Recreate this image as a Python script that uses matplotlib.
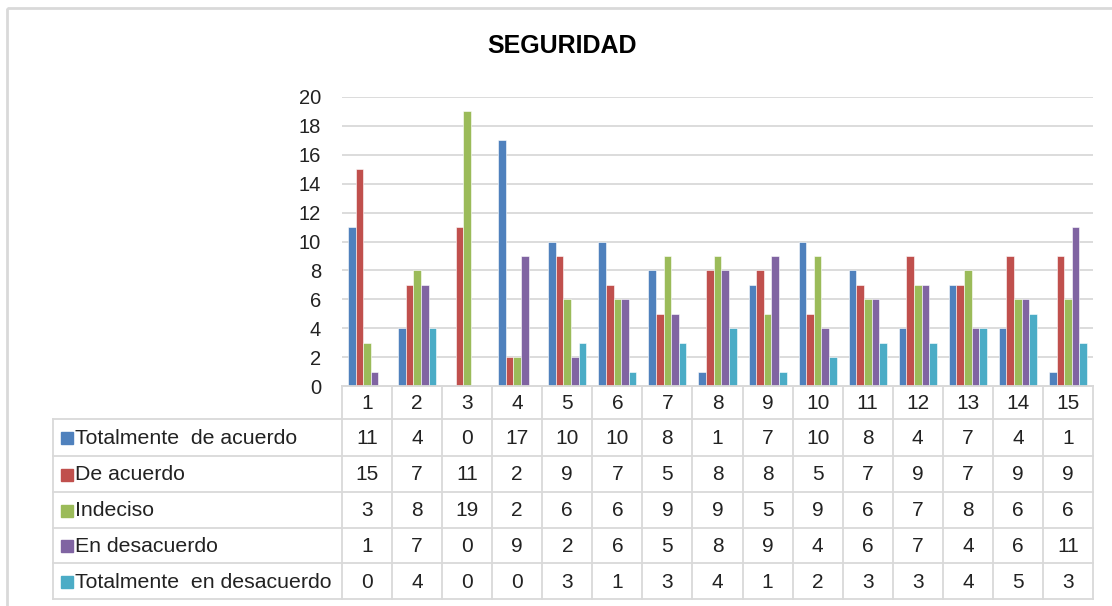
import numpy as np
import matplotlib
matplotlib.use("Agg")
import matplotlib.pyplot as plt
from matplotlib.patches import Rectangle

plt.rcParams['font.family'] = ['Liberation Sans', 'DejaVu Sans']

# datos
categorias = [str(i) for i in range(1, 16)]
series = ["Totalmente  de acuerdo", "De acuerdo", "Indeciso", "En desacuerdo", "Totalmente  en desacuerdo"]
tot_acuerdo = [11, 4, 0, 17, 10, 10, 8, 1, 7, 10, 8, 4, 7, 4, 1]
de_acuerdo = [15, 7, 11, 2, 9, 7, 5, 8, 8, 5, 7, 9, 7, 9, 9]
indeciso = [3, 8, 19, 2, 6, 6, 9, 9, 5, 9, 6, 7, 8, 6, 6]
en_desacuerdo = [1, 7, 0, 9, 2, 6, 5, 8, 9, 4, 6, 7, 4, 6, 11]
tot_desacuerdo = [0, 4, 0, 0, 3, 1, 3, 4, 1, 2, 3, 3, 4, 5, 3]
valores = [tot_acuerdo, de_acuerdo, indeciso, en_desacuerdo, tot_desacuerdo]
colores = ["#4F81BD", "#C0504D", "#9BBB59", "#8064A2", "#4BACC6"]

W, H = 1112, 606
fig = plt.figure(figsize=(W / 100, H / 100), dpi=100)

# capa en pixeles para marco y tabla
bg = fig.add_axes([0, 0, 1, 1])
bg.set_xlim(0, W)
bg.set_ylim(H, 0)
bg.axis('off')
bg.add_patch(Rectangle((7, 8), W, H, fill=False, edgecolor="#D9D9D9", linewidth=2))

# area del grafico
x_izq, x_der, y_sup, y_cero = 342, 1093, 97, 386
ax = fig.add_axes([x_izq / W, 1 - y_cero / H, (x_der - x_izq) / W, (y_cero - y_sup) / H])
ax.set_xlim(0.5, len(categorias) + 0.5)
ax.set_ylim(0, 20)
ax.set_yticks(range(0, 21, 2))
ax.set_xticks([])
ax.yaxis.grid(True, color="#D9D9D9", linewidth=1.3)
ax.set_axisbelow(True)
for s in ["top", "right", "left"]:
    ax.spines[s].set_visible(False)
ax.spines["bottom"].set_color("#D9D9D9")
ax.spines["bottom"].set_linewidth(1.3)
ax.tick_params(axis='y', length=0, pad=15, labelsize=14.5, labelcolor="#222222")

x = np.arange(1, len(categorias) + 1)
ancho = 0.152
for i, (vals, col) in enumerate(zip(valores, colores)):
    ax.bar(x + (i - 2) * ancho, vals, width=ancho, color=col, edgecolor="white", linewidth=0.4)

fig.text(562 / W, 1 - 46 / H, "SEGURIDAD", ha="center", va="center", fontsize=18, fontweight="bold")

# tabla de datos
x_leyenda = 53
col_w = (x_der - x_izq) / len(categorias)
filas = [386, 419, 456, 492, 528, 563, 599]
gris = "#D9D9D9"
lw = 1.3
# lineas horizontales
bg.plot([x_izq, x_der], [filas[0], filas[0]], color=gris, lw=lw)
for yy in filas[1:]:
    bg.plot([x_leyenda, x_der], [yy, yy], color=gris, lw=lw)
# lineas verticales
for j in range(len(categorias) + 1):
    xx = x_izq + j * col_w
    bg.plot([xx, xx], [filas[0], filas[-1]], color=gris, lw=lw)
bg.plot([x_leyenda, x_leyenda], [filas[1], filas[-1]], color=gris, lw=lw)

# encabezados
for j, c in enumerate(categorias):
    bg.text(x_izq + (j + 0.5) * col_w, (filas[0] + filas[1]) / 2 + 1, c,
            ha="center", va="center", fontsize=15, color="#222222")
# filas
for i, (nombre, vals, col) in enumerate(zip(series, valores, colores)):
    yc = (filas[i + 1] + filas[i + 2]) / 2 + 1
    bg.add_patch(Rectangle((61, yc - 6.5), 12, 12, color=col))
    bg.text(75, yc, nombre, ha="left", va="center", fontsize=15.3, color="#222222")
    for j, v in enumerate(vals):
        bg.text(x_izq + (j + 0.5) * col_w, yc, str(v), ha="center", va="center",
                fontsize=15, color="#222222")

fig.savefig("out.png", dpi=100)
